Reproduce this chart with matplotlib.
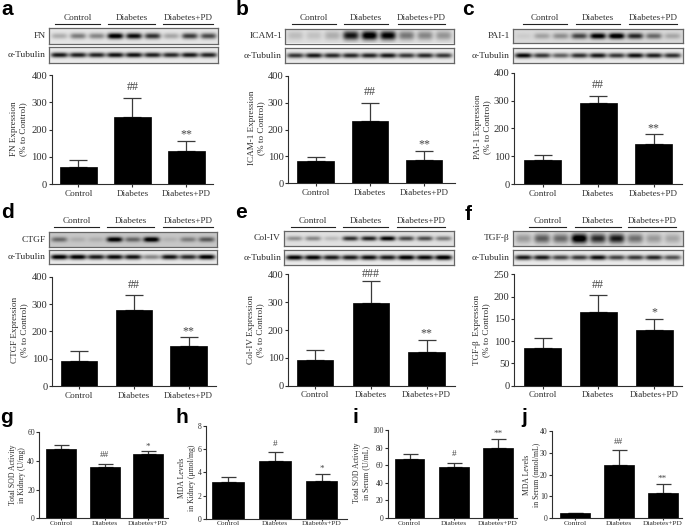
import numpy as np
import matplotlib
matplotlib.use("Agg")
import matplotlib.pyplot as plt

W, H = 685, 529
plt.rcParams['font.family'] = ['Liberation Serif', 'DejaVu Serif']
plt.rcParams['axes.unicode_minus'] = False

groups = ["Control", "Diabetes", "Diabetes+PD"]

fn_mean = [62, 245, 120];      fn_err = [28, 73, 38];      fn_sig = ["", "##", "**"]
icam_mean = [82, 230, 88];     icam_err = [15, 68, 31];    icam_sig = ["", "##", "**"]
pai_mean = [85, 290, 145];     pai_err = [18, 28, 33];     pai_sig = ["", "##", "**"]
ctgf_mean = [93, 278, 145];    ctgf_err = [35, 54, 33];    ctgf_sig = ["", "##", "**"]
col_mean = [93, 297, 120];     col_err = [36, 79, 43];     col_sig = ["", "###", "**"]
tgf_mean = [85, 165, 126];     tgf_err = [22, 38, 23];     tgf_sig = ["", "##", "*"]
sodk_mean = [48, 36, 44.5];    sodk_err = [3, 2, 2];       sodk_sig = ["", "##", "*"]
mdak_mean = [3.2, 5.0, 3.25];  mdak_err = [0.4, 0.75, 0.65]; mdak_sig = ["", "#", "*"]
sods_mean = [67.5, 57.5, 79];  sods_err = [5.5, 5.5, 11];  sods_sig = ["", "#", "**"]
mdas_mean = [2.2, 24.2, 11.3]; mdas_err = [0.3, 7.1, 4.4]; mdas_sig = ["", "##", "**"]

fn_bands = [.22, .42, .38, .98, .88, .72, .25, .68, .62]
icam_bands = [.14, .12, .2, .82, .98, .92, .42, .36, .3]
pai_bands = [.05, .22, .3, .6, .92, .98, .72, .45, .2]
ctgf_bands = [.38, .1, .1, .85, .4, .88, .08, .3, .45]
col_bands = [.32, .36, .15, .72, .78, .92, .62, .6, .42]
tgf_bands = [.25, .5, .45, 1.0, .7, .78, .42, .25, .2]
fn_tub = [.85, .82, .8, .88, .88, .82, .78, .85, .8]
icam_tub = [.72, .85, .78, .78, .8, .85, .72, .78, .72]
pai_tub = [.92, .72, .55, .75, .85, .72, .88, .82, .75]
ctgf_tub = [.98, .98, .85, .92, .88, .4, .88, .78, .98]
col_tub = [.95, .95, .85, .85, .9, .85, .98, .92, 1.0]
tgf_tub = [.85, .85, .68, .72, .9, .68, .72, .8, .62]

fig = plt.figure(figsize=(W / 100, H / 100), dpi=100, facecolor="white")
INK = "#2e2e2e"


def fx(x):
    return x / W


def fy(y):
    return 1 - y / H


def px_axes(x0, y0, x1, y1):
    return fig.add_axes([fx(x0), fy(y1), (x1 - x0) / W, (y1 - y0) / H])


def blot(box, bands, tub_y, tub, label, line_y, spans, sy_target, bg_target):
    """Draw the two gel strips, their labels and the group rules."""
    x0, x1, y0, y1 = box
    for (ya, yb), vals, name, sy, bg, hw in [((y0, y1), bands, label, sy_target, bg_target, 8.0),
                                             (tub_y, tub, "\u03b1-Tubulin", 2.6, 0.08, 8.6)]:
        ax = px_axes(x0, ya, x1, yb)
        nx, ny = int(x1 - x0) * 2, int(yb - ya) * 2
        xx, yy = np.meshgrid(np.linspace(0, 1, nx), np.linspace(0, 1, ny))
        yc = (yb - ya) * yy - (yb - ya) / 2
        dark = np.full_like(xx, bg)
        for i, v in enumerate(vals):
            cx = (i + 0.55) / 9.1 * (x1 - x0)
            dx = (xx * (x1 - x0) - cx) / hw
            dark += v * np.exp(-dx ** 4) * np.exp(-(yc / sy) ** 2)
        ax.imshow(1 - np.clip(dark, 0, 1), cmap="gray", vmin=0, vmax=1, aspect="auto",
                  interpolation="bilinear")
        ax.set_xticks([])
        ax.set_yticks([])
        for s in ax.spines.values():
            s.set_color("#666666")
            s.set_linewidth(0.9)
        fig.text(fx(x0 - 3), fy((ya + yb) / 2), name, ha="right", va="center",
                 fontsize=6.8, color=INK)
    for (a, b), g in zip(spans, groups):
        fig.add_artist(plt.Line2D([fx(a), fx(b)], [fy(line_y), fy(line_y)], color="#222222", lw=0.8))
        fig.text(fx((a + b) / 2), fy(line_y - 2), g, ha="center", va="bottom", fontsize=6.6, color=INK)


def panel(rect, c0, c2, bw, ymax, step, mean, err, sig, ylabel, lab_xy, small=False):
    left, top, right, bottom = rect
    ax = px_axes(left, top, right, bottom)
    s = (c2 - c0) / 2
    xpos = np.arange(len(mean))
    tick_fs, cap, sig_fs, lab_fs = (5.5, 5.4, 6.6, 5.6) if small else (7.6, 6.8, 8.6, 6.6)
    lab_x_fs = 5.4 if small else 6.6
    ax.bar(xpos, mean, width=bw / s, color="black", edgecolor="black", linewidth=0.5, zorder=3)
    ax.errorbar(xpos, mean, yerr=[np.zeros(len(err)), err], fmt="none", ecolor="#3a3a3a",
                elinewidth=0.9, capsize=cap, capthick=0.9, zorder=2)
    ax.set_xlim((left - c0) / s, (right - c0) / s)
    ax.set_ylim(0, ymax)
    ax.set_yticks(np.arange(0, ymax + step / 2, step))
    ax.set_xticks(xpos, groups)
    ax.tick_params(axis="y", labelsize=tick_fs, length=2.2, width=0.8, pad=1, colors=INK)
    ax.tick_params(axis="x", labelsize=lab_x_fs, length=1.5 if small else 2.2, width=0.8,
                   pad=0.5 if small else 1.8, colors=INK)
    for side in ("top", "right"):
        ax.spines[side].set_visible(False)
    for side in ("left", "bottom"):
        ax.spines[side].set_color(INK)
        ax.spines[side].set_linewidth(0.8)
    ax.set_ylabel(ylabel, fontsize=lab_fs, color=INK, va="center", ha="center",
                  multialignment="center", linespacing=1.3 if small else 1.2)
    ax.yaxis.set_label_coords(fx(lab_xy[0]), fy(lab_xy[1]), transform=fig.transFigure)
    for x, m, e, t in zip(xpos, mean, err, sig):
        if t:
            off = (4.5 if "#" in t else 2.0) if small else (5.5 if "#" in t else 2.5)
            if t == "###":
                off = 3.2
            ax.annotate(t, (x, m + e), xytext=(0, off), textcoords="offset points",
                        ha="center", va="baseline", fontsize=sig_fs, color="#444444")
    return ax


# top row
blot((48.7, 218, 28, 44), fn_bands, (47, 63), fn_tub, "FN", 24, [(55, 100), (108, 155), (163, 213)], 3.0, .1)
panel((51.7, 75.3, 213, 184), 78.5, 186.5, 36.5, 400, 100, fn_mean, fn_err, fn_sig,
      "FN Expression\n(% to Control)", (19, 129))

blot((285, 454, 29, 43.5), icam_bands, (48, 63), icam_tub, "ICAM-1", 23.7, [(292, 336), (344, 388), (398, 445)], 4.5, .12)
panel((288, 75.7, 455, 183.3), 315.5, 424, 36.5, 400, 100, icam_mean, icam_err, icam_sig,
      "ICAM-1 Expression\n(% to Control)", (256.5, 128))

blot((513, 683, 29, 43), pai_bands, (48, 63), pai_tub, "PAI-1", 23.7, [(523, 567), (576, 620), (629, 677)], 3.0, .15)
panel((514, 72.7, 682, 184), 542.5, 653.5, 37, 400, 100, pai_mean, pai_err, pai_sig,
      "PAI-1 Expression\n(% to Control)", (482.5, 127))

# middle row
blot((49, 217, 232, 247), ctgf_bands, (250, 264), ctgf_tub, "CTGF", 227, [(54, 99), (107, 154), (163, 213)], 2.6, .22)
panel((52, 276.7, 216, 386), 79, 188.5, 36.5, 400, 100, ctgf_mean, ctgf_err, ctgf_sig,
      "CTGF Expression\n(% to Control)", (20, 330))

blot((284, 454, 231, 246), col_bands, (250, 265), col_tub, "Col-IV", 227, [(291, 335), (343, 388), (397, 445)], 2.4, .12)
panel((288, 274.3, 455, 385.7), 315, 426.5, 36.5, 400, 100, col_mean, col_err, col_sig,
      "Col-IV Expression\n(% to Control)", (256, 330))

blot((513, 683, 231, 246), tgf_bands, (250, 265), tgf_tub, "TGF-\u03b2", 227, [(529, 566), (575, 621), (628, 676)], 4.8, .15)
panel((514, 274.3, 682, 385.7), 542.5, 654, 37, 250, 50, tgf_mean, tgf_err, tgf_sig,
      "TGF-\u03b2  Expression\n(% to Control)", (482, 330))

# bottom row
panel((39.3, 432, 168, 518.3), 61, 148, 30, 60, 20, sodk_mean, sodk_err, sodk_sig,
      "Total SOD Activity\nin Kidney (U/mg)", (17.5, 475), small=True)
panel((206, 426, 347, 518.7), 228, 321.5, 31.5, 8, 2, mdak_mean, mdak_err, mdak_sig,
      "MDA Levels\nin Kidney (\u03bcmol/mg)", (187, 478), small=True)
panel((387.7, 430, 517, 518), 409.5, 498, 29.5, 100, 20, sods_mean, sods_err, sods_sig,
      "Total SOD Activity\nin Serum (U/mL)", (361.5, 473), small=True)
panel((552, 431, 682, 518), 575, 662.5, 30, 40, 10, mdas_mean, mdas_err, mdas_sig,
      "MDA Levels\nin Serum (nmol/mL)", (531.5, 475), small=True)

letters = [("a", 1, 15), ("b", 236, 15), ("c", 462, 15), ("d", 1, 218), ("e", 235, 218), ("f", 465, 220),
           ("g", 0, 423), ("h", 175, 423), ("i", 353, 423), ("j", 521, 423)]
for t, x, y in letters:
    fig.text(fx(x), fy(y), t, family="Liberation Sans", fontweight="bold", fontsize=15,
             ha="left", va="baseline", color="black")

fig.savefig("out.png", dpi=100, facecolor="white")
